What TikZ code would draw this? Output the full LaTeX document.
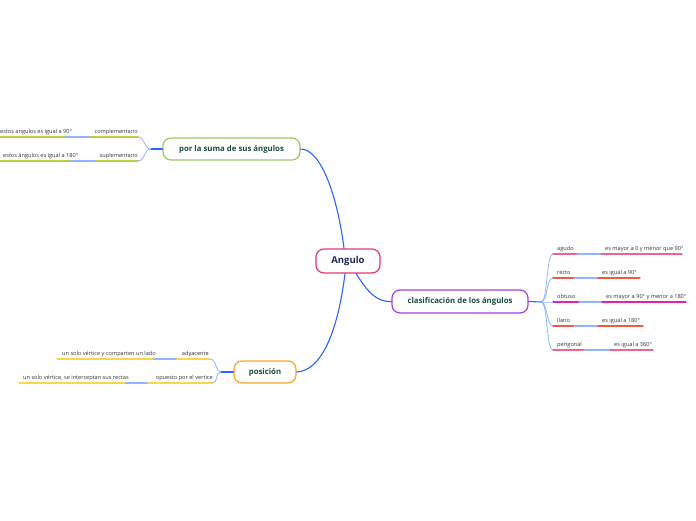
\documentclass[tikz,border=0pt]{standalone}
\usepackage{fontspec}
\setmainfont{Open Sans}
\definecolor{mainblue}{HTML}{2D63FF}
\definecolor{lightblue}{HTML}{94B4FF}
\definecolor{crimson}{HTML}{E8366C}
\definecolor{navy}{HTML}{1B2A5A}
\definecolor{textgreen}{HTML}{1E4D3C}
\definecolor{topgreen}{HTML}{9DC85C}
\definecolor{purp}{HTML}{A63DE6}
\definecolor{orng}{HTML}{F6A725}
\definecolor{leafgreen}{HTML}{B6D240}
\definecolor{leafpink}{HTML}{F06292}
\definecolor{leafred}{HTML}{EE5A45}
\definecolor{leafmag}{HTML}{DC22B8}
\definecolor{leafyellow}{HTML}{FAD64A}
\definecolor{leafgray}{HTML}{333333}
\tikzset{
  topic/.style={draw, line width=1.2pt, rounded corners=8pt, fill=white, inner sep=0pt,
    font=\fontsize{7.8}{9}\selectfont\bfseries, text=textgreen},
  leaf/.style={font=\fontsize{5.6}{6}\selectfont, text=leafgray, inner sep=0pt},
  mainlink/.style={mainblue, line width=1.1pt},
  sublink/.style={lightblue, line width=0.8pt},
  uline/.style={line width=1.3pt},
}
\begin{document}
\begin{tikzpicture}[x=1pt, y=-1pt, line cap=round, line join=round]
	\useasboundingbox (0,0) rectangle (696,520);

	% temas principales
	\node[topic, draw=crimson, text=navy, font=\fontsize{9.5}{11}\selectfont\bfseries,
	  minimum width=64pt, minimum height=24pt] (angulo) at (348,261) {Angulo};
	\node[topic, draw=topgreen, minimum width=137pt, minimum height=22pt] (suma) at (231.5,149) {por la suma de sus ángulos};
	\node[topic, draw=purp, minimum width=136pt, minimum height=23pt] (clasif) at (460,301.5) {clasificación de los ángulos};
	\node[topic, draw=orng, minimum width=62pt, minimum height=22pt] (posic) at (265,372) {posición};

	% conectores desde Angulo
	\draw[mainlink] ([xshift=-4pt]angulo.north) .. controls (338,200) and (322,149) .. (suma.east);
	\draw[mainlink] ([xshift=-3pt]angulo.south) .. controls (338,330) and (322,371) .. (posic.east);
	\draw[mainlink] ([xshift=8pt]angulo.south) .. controls (368,292) and (376,302) .. (clasif.west);

	% --- por la suma de sus ángulos ---
	\coordinate (sumasplit) at (151,149);
	\draw[mainlink] (suma.west) -- (sumasplit);
	\node[leaf, anchor=base east] (compl) at (138,133) {complementario};
	\node[leaf, anchor=base west] (complsub) at (0,133) {estos angulos es igual a 90°};
	\draw[uline, leafgreen] (90,137) coordinate (complL) -- (138,137) coordinate (complR);
	\draw[uline, lightblue] (complL) -- (65,137) coordinate (complsubR);
	\draw[uline, leafgreen] (complsubR) -- (0,137);
	\draw[sublink] (sumasplit) .. controls (144,149) and (145,137) .. (complR);

	\node[leaf, anchor=base east] (supl) at (138,157) {suplementario};
	\node[leaf, anchor=base west] (suplsub) at (3,157) {estos ángulos es igual a 180°};
	\draw[uline, leafgreen] (95,161) coordinate (suplL) -- (138,161) coordinate (suplR);
	\draw[uline, lightblue] (suplL) -- (70,161) coordinate (suplsubR);
	\draw[uline, leafgreen] (suplsubR) -- (0,161);
	\draw[sublink] (sumasplit) .. controls (144,149) and (145,161) .. (suplR);

	% --- posición ---
	\coordinate (posicsplit) at (221,372);
	\draw[mainlink] (posic.west) -- (posicsplit);
	\node[leaf, anchor=base east] (adya) at (209,355) {adyacente};
	\node[leaf, anchor=base west] (adyasub) at (62,355) {un solo vértice y comparten un lado};
	\draw[uline, leafyellow] (176,359) coordinate (adyaL) -- (210,359) coordinate (adyaR);
	\draw[uline, lightblue] (adyaL) -- (153,359) coordinate (adyasubR);
	\draw[uline, leafyellow] (adyasubR) -- (57,359);
	\draw[sublink] (posicsplit) .. controls (215,372) and (217,359) .. (adyaR);

	\node[leaf, anchor=base east] (opue) at (213,379) {opuesto por el vertice};
	\node[leaf, anchor=base west] (opuesub) at (23,379) {un solo vértice, se interceptan sus rectas};
	\draw[uline, leafyellow] (147,383) coordinate (opueL) -- (213,383) coordinate (opueR);
	\draw[uline, lightblue] (opueL) -- (125,383) coordinate (opuesubR);
	\draw[uline, leafyellow] (opuesubR) -- (19,383);
	\draw[sublink] (posicsplit) .. controls (215,372) and (218,383) .. (opueR);

	% --- clasificación de los ángulos ---
	\coordinate (clasifsplit) at (541,302);
	\draw[mainlink] (clasif.east) -- (clasifsplit);
	\foreach \name/\y/\col/\a/\b/\c/\txt/\sub in {
		agudo/254/leafpink/577/601/682/agudo/{es mayor a 0 y menor que 90°},
		recto/278/leafred/574/598/640/recto/{es igual a 90°},
		obtuso/302/leafmag/579/602/686/obtuso/{es mayor a 90° y menor a 180°},
		llano/326/leafred/574/598/643/llano/{es igual a 180°},
		perig/350/leafpink/584/610/653/perigonal/{es igual a 360°}} {
		\node[leaf, anchor=base west] (\name) at (557,\y-4) {\txt};
		\node[leaf, anchor=base west] (\name sub) at (\b+4,\y-4) {\sub};
		\draw[uline, \col] (553,\y) coordinate (\name L) -- (\a,\y) coordinate (\name R);
		\draw[uline, lightblue] (\name R) -- (\b,\y) coordinate (\name subL);
		\draw[uline, \col] (\name subL) -- (\c,\y);
		\draw[sublink] (clasifsplit) .. controls (548,302) and (546,\y) .. (\name L);
	}

\end{tikzpicture}
\end{document}
